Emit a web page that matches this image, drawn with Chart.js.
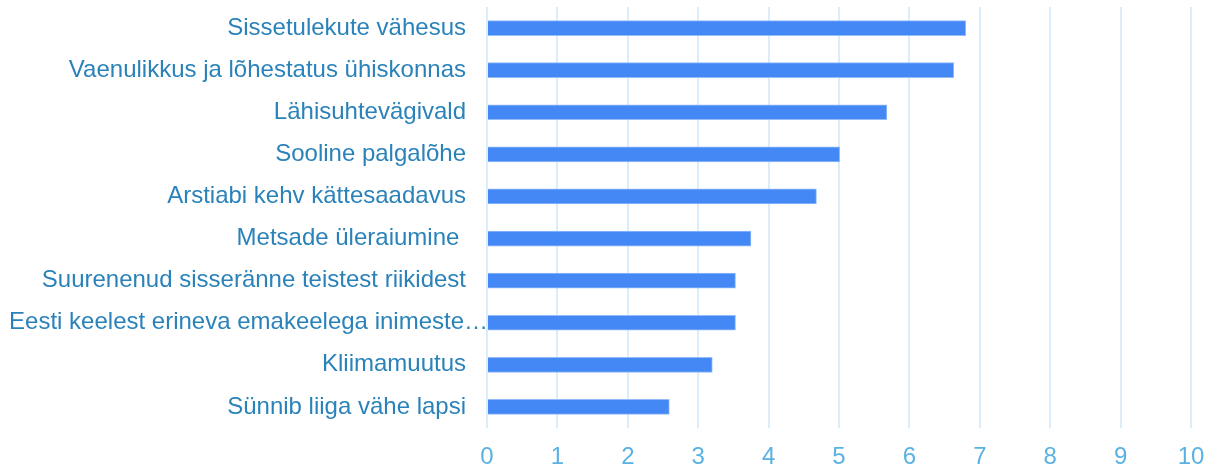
<!DOCTYPE html>
<html>
<head>
<meta charset="utf-8">
<script src="https://cdn.jsdelivr.net/npm/chart.js@4/dist/chart.umd.min.js"></script>
<style>
  html, body { margin: 0; padding: 0; background: #fff; }
  #wrap { width: 1208px; height: 467px; position: relative; }
</style>
</head>
<body>
<div id="wrap"><canvas id="chart"></canvas></div>
<script>
// Categories, top to bottom
const categories = [
    'Sissetulekute vähesus',
    'Vaenulikkus ja lõhestatus ühiskonnas',
    'Lähisuhtevägivald',
    'Sooline palgalõhe',
    'Arstiabi kehv kättesaadavus',
    'Metsade üleraiumine ',
    'Suurenenud sisseränne teistest riikidest',
    'Eesti keelest erineva emakeelega inimeste…',
    'Kliimamuutus',
    'Sünnib liiga vähe lapsi'
];

// Average score per issue
const scores = [6.8, 6.63, 5.68, 5.01, 4.68, 3.75, 3.53, 3.53, 3.2, 2.59];

// Axis range
const axisMin = 0;
const axisMax = 10;

const fontFamily = 'Liberation Sans, Arial, sans-serif';

// The truncated label overflows toward the bars in the original, nudge it right
const overflowLabel = {
    id: 'overflowLabel',
    beforeDraw(chart) {
        const items = chart.scales.y.getLabelItems();
        items.forEach(item => {
            if (item.label.endsWith('…')) {
                item.options.translation[0] += 22;
            }
        });
    }
};

const ctx = document.getElementById('chart');
new Chart(ctx, {
    type: 'bar',
    data: {
        labels: categories,
        datasets: [{
            data: scores,
            backgroundColor: '#4488f5',
            borderColor: '#93bcf9',
            borderWidth: 1,
            barThickness: 15
        }]
    },
    options: {
        indexAxis: 'y',
        responsive: true,
        maintainAspectRatio: false,
        animation: false,
        layout: { padding: { top: 7, right: 17, bottom: 0, left: 0 } },
        plugins: {
            legend: { display: false },
            tooltip: { enabled: false }
        },
        scales: {
            x: {
                min: axisMin,
                max: axisMax,
                border: { display: false },
                grid: {
                    color: '#dbedf9',
                    lineWidth: 2,
                    drawTicks: false
                },
                ticks: {
                    stepSize: 1,
                    color: '#5ab2e3',
                    padding: 15,
                    font: { family: fontFamily, size: 24 }
                },
                afterFit: function (scale) {
                    scale.height = 39;
                    scale.paddingRight = 0;
                    scale.paddingLeft = 0;
                }
            },
            y: {
                border: { display: false },
                grid: { display: false, drawTicks: true, tickLength: 21 },
                ticks: {
                    color: '#2a82ba',
                    padding: 0,
                    autoSkip: false,
                    font: { family: fontFamily, size: 24, lineHeight: 0.5 }
                },
                afterFit: function (scale) {
                    scale.width = 487;
                }
            }
        }
    },
    plugins: [overflowLabel]
});
</script>
</body>
</html>
